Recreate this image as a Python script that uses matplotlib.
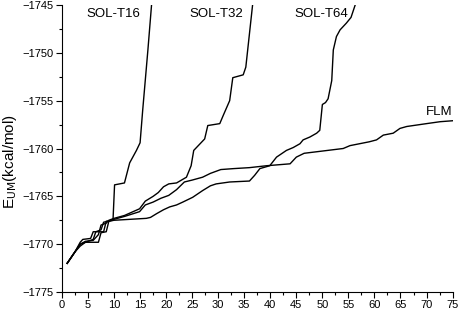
import matplotlib.pyplot as plt
from matplotlib.ticker import MultipleLocator

t16_x = [1, 2.5, 3.5, 4, 5.5, 6, 8, 8.5, 9.8, 10.1, 12, 13, 14.3, 15, 15.5, 16.5, 17.2]
t16_y = [-1772, -1770.8, -1769.8, -1769.5, -1769.4, -1768.7, -1768.7, -1767.6, -1767.5,
         -1763.8, -1763.6, -1761.5, -1760.2, -1759.4, -1756, -1749.7, -1745]

t32_x = [1, 2.5, 3.5, 4.5, 6, 7, 7.5, 8.5, 9, 10, 12, 14.9, 16, 17.5, 18.5, 19.5, 20.5, 22,
         23.9, 24.8, 25.3, 26, 27.4, 28, 30.3, 31, 32.2, 32.8, 34.8, 35.3, 35.8, 36.6]
t32_y = [-1772, -1770.8, -1770, -1769.7, -1769.6, -1769, -1768, -1767.8, -1767.5, -1767.3,
         -1767, -1766.3, -1765.5, -1765, -1764.6, -1764, -1763.7, -1763.6, -1763,
         -1761.8, -1760.2, -1759.8, -1759, -1757.6, -1757.4, -1756.5, -1755, -1752.6,
         -1752.3, -1751.5, -1749, -1745]

t64_x = [1, 2.5, 3.5, 4.5, 7, 7.5, 8.5, 9, 10, 16.2, 17, 18.2, 19.5, 20.7, 22, 23.2, 25.1,
         27, 28.5, 29.6, 32.2, 36, 37, 38, 39.9, 41.2, 43.1, 44.4, 45.7, 46.3, 47.6, 48.9,
         49.5, 50, 50.6, 51.1, 51.8, 52.1, 52.7, 53.4, 54.6, 55.5, 56.3]
t64_y = [-1772, -1770.8, -1770.2, -1769.8, -1769.8, -1768.8, -1768.7, -1767.6, -1767.5,
         -1767.3, -1767.2, -1766.8, -1766.4, -1766.1, -1765.9, -1765.6, -1765.1, -1764.4,
         -1763.9, -1763.7, -1763.5, -1763.4, -1762.8, -1762.1, -1761.8, -1760.9, -1760.2,
         -1759.9, -1759.5, -1759.1, -1758.8, -1758.4, -1758.1, -1755.4, -1755.2, -1754.8,
         -1752.9, -1749.7, -1748.3, -1747.6, -1746.9, -1746.3, -1745]

flm_x = [1, 2.5, 3.5, 5, 6, 6.5, 7.5, 8, 9, 10, 12, 14.9, 16, 17.5, 19, 20.5, 22, 23.5, 25,
         27, 28.5, 30.5, 33, 36, 39.3, 43.8, 45, 46.5, 48, 54, 55.3, 59, 60.4, 61.7, 63.6,
         64.9, 66.2, 70, 72.6, 75]
flm_y = [-1772, -1770.8, -1770, -1769.7, -1769.5, -1768.7, -1768.5, -1767.7, -1767.6,
         -1767.4, -1767.1, -1766.6, -1765.9, -1765.6, -1765.2, -1764.9, -1764.3, -1763.5,
         -1763.3, -1763, -1762.6, -1762.2, -1762.1, -1762, -1761.8, -1761.6, -1760.9,
         -1760.5, -1760.4, -1760, -1759.7, -1759.3, -1759.1, -1758.6, -1758.4, -1757.9,
         -1757.7, -1757.4, -1757.2, -1757.1]

labels = ["SOL-T16", "SOL-T32", "SOL-T64", "FLM"]
label_pos = [(9.9, -1745.9), (29.6, -1745.9), (49.7, -1745.9), (72.4, -1756.2)]

plt.rcParams['font.family'] = ['Liberation Sans', 'DejaVu Sans']

fig = plt.figure(figsize=(4.59, 3.11), dpi=100)
ax = fig.add_axes([0.135, 0.061, 0.851, 0.923])

for xs, ys in [(t16_x, t16_y), (t32_x, t32_y), (t64_x, t64_y), (flm_x, flm_y)]:
    ax.plot(xs, ys, color='black', lw=1.0)

for text, (tx, ty) in zip(labels, label_pos):
    ax.text(tx, ty, text, fontsize=9.5, ha='center', va='center')

ax.set_xlim(0, 75)
ax.set_ylim(-1775, -1745)
ax.xaxis.set_major_locator(MultipleLocator(5))
ax.xaxis.set_minor_locator(MultipleLocator(2.5))
ax.yaxis.set_major_locator(MultipleLocator(5))
ax.yaxis.set_minor_locator(MultipleLocator(2.5))
ax.tick_params(which='major', length=4, width=0.8, labelsize=8, pad=2)
ax.tick_params(which='minor', length=2, width=0.8)
ax.spines['top'].set_visible(False)
ax.spines['right'].set_visible(False)

ax.set_ylabel(r'E$_{\mathrm{UM}}$(kcal/mol)', fontsize=11, labelpad=3)
ax.yaxis.set_label_coords(-0.11, 0.455)

fig.savefig('out.png', dpi=100)
